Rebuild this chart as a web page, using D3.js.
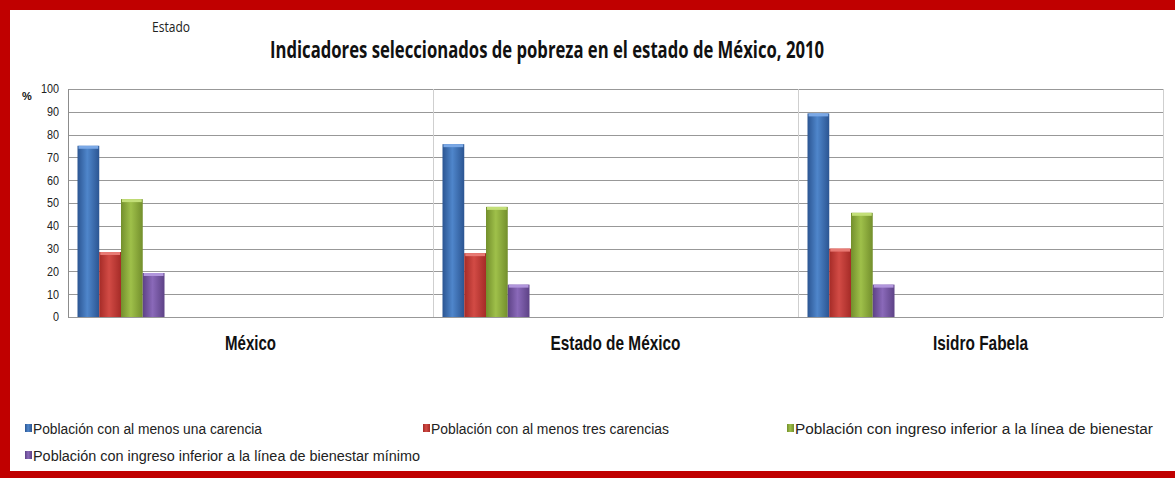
<!DOCTYPE html>
<html>
<head>
<meta charset="utf-8"/>
<script src="https://d3js.org/d3.v7.min.js"></script>
<style>
  body { margin: 0; background: #fff; }
  svg { display: block; }
  text { font-family: "Liberation Sans", Arial, sans-serif; fill: #111; }
  .grid line { stroke: #989898; stroke-width: 1; }
  .sep { stroke: #cfcfcf; stroke-width: 1; }
</style>
</head>
<body>
<div id="chart"></div>
<script>
// data
var categories = ["México", "Estado de México", "Isidro Fabela"];
var series = [
  "Población con al menos una carencia",
  "Población con al menos tres carencias",
  "Población con ingreso inferior a la línea de bienestar",
  "Población con ingreso inferior a la línea de bienestar mínimo"
];
var unaCarencia   = [75.1, 75.8, 89.3];
var tresCarencias = [28.5, 28.0, 30.0];
var ingresoBien   = [51.7, 48.3, 45.7];
var ingresoMin    = [19.3, 14.2, 14.2];
var yTicks = [0, 10, 20, 30, 40, 50, 60, 70, 80, 90, 100];

var values = [unaCarencia, tresCarencias, ingresoBien, ingresoMin];
// [edge, middle, top cap]
var colors = [
  ["#2b5592", "#4f86cb", "#7aa8e6"],
  ["#a52b27", "#d24b45", "#e87a74"],
  ["#738f2c", "#9fc04a", "#c3df78"],
  ["#5d4286", "#8a69b9", "#b196dc"]
];

var W = 1175, H = 478;
var m = {top: 89, right: 12, bottom: 161, left: 68}; // plot box 68..1163, 89..317

var svg = d3.select('#chart').append('svg')
  .attr('width', W).attr('height', H);

var defs = svg.append('defs');
colors.forEach(function(c, i) {
  var g = defs.append('linearGradient').attr('id', 'g' + i)
    .attr('x1', 0).attr('x2', 1).attr('y1', 0).attr('y2', 0);
  g.append('stop').attr('offset', '0%').attr('stop-color', c[0]);
  g.append('stop').attr('offset', '45%').attr('stop-color', c[1]);
  g.append('stop').attr('offset', '100%').attr('stop-color', c[0]);
});

// red frame
svg.append('rect').attr('x', 5).attr('y', 5).attr('width', W + 10).attr('height', H - 7)
  .style('fill', 'none').style('stroke', '#c00000').style('stroke-width', 10);

var x0 = d3.scaleBand().domain(categories).range([m.left, W - m.right]);
var x1 = d3.scaleBand().domain(d3.range(series.length)).range([0, 87]);
var barOffset = 9.5;
var y = d3.scaleLinear().domain([0, 100]).range([H - m.bottom, m.top]);

// gridlines
svg.append('g').attr('class', 'grid')
  .selectAll('line').data(yTicks).join('line')
  .attr('x1', m.left).attr('x2', W - m.right)
  .attr('y1', function(d) { return Math.round(y(d)) + 0.5; })
  .attr('y2', function(d) { return Math.round(y(d)) + 0.5; });

// category separators and right side of the plot
var seps = categories.slice(1).map(function(c) { return x0(c); }).concat([W - m.right]);
svg.append('g').selectAll('line').data(seps).join('line').attr('class', 'sep')
  .attr('x1', function(d) { return Math.round(d) + 0.5; })
  .attr('x2', function(d) { return Math.round(d) + 0.5; })
  .attr('y1', y(100)).attr('y2', y(0));

// y axis
var yAxis = svg.append('g').attr('transform', 'translate(' + m.left + ',0)')
  .call(d3.axisLeft(y).tickValues(yTicks).tickSize(0).tickPadding(10));
yAxis.select('.domain').attr('stroke', '#8c8c8c');
yAxis.selectAll('text').style('font-size', '12px').style('fill', '#222')
  .attr('transform', 'scale(0.9,1.08)')
  .attr('dy', '0.3em');

svg.append('text').attr('x', 22).attr('y', 100).text('%')
  .style('font-size', '11px').style('font-weight', 'bold');

// bars
var groups = svg.append('g').selectAll('g').data(categories).join('g')
  .attr('transform', function(c) { return 'translate(' + (x0(c) + barOffset) + ',0)'; });

groups.each(function(c, ci) {
  var g = d3.select(this);
  values.forEach(function(vals, si) {
    var v = vals[ci];
    g.append('rect')
      .attr('x', x1(si)).attr('width', x1.bandwidth())
      .attr('y', y(v)).attr('height', y(0) - y(v))
      .style('fill', 'url(#g' + si + ')');
    g.append('rect')
      .attr('x', x1(si) + 1).attr('width', x1.bandwidth() - 2)
      .attr('y', y(v)).attr('height', 3)
      .style('fill', colors[si][2]);
  });
});

// category labels
var catWidths = [51, 130, 95];
svg.append('g').selectAll('text').data(categories).join('text')
  .attr('x', function(c) { return x0(c) + x0.bandwidth() / 2; })
  .attr('y', 350)
  .attr('text-anchor', 'middle')
  .attr('textLength', function(c, i) { return catWidths[i]; })
  .attr('lengthAdjust', 'spacingAndGlyphs')
  .style('font-size', '21px').style('font-weight', 'bold')
  .text(function(c) { return c; });

// titles
svg.append('text').attr('x', 270).attr('y', 58)
  .attr('textLength', 554).attr('lengthAdjust', 'spacingAndGlyphs')
  .style('font-size', '23px').style('font-weight', 'bold')
  .style('font-family', '"Open Sans", "Liberation Sans", sans-serif')
  .text('Indicadores seleccionados de pobreza en el estado de México, 2010');

svg.append('text').attr('x', 152).attr('y', 32)
  .attr('textLength', 38).attr('lengthAdjust', 'spacingAndGlyphs')
  .style('font-size', '14px').style('fill', '#222')
  .style('font-family', '"Open Sans", "Liberation Sans", sans-serif')
  .text('Estado');

// legend
var legendPos = [[25, 428, 229], [423, 428, 238], [787, 428, 358], [25, 455, 387]];
var legend = svg.append('g').selectAll('g').data(series).join('g')
  .attr('transform', function(s, i) { return 'translate(' + legendPos[i][0] + ',' + legendPos[i][1] + ')'; });
legend.append('rect').attr('x', 0).attr('y', -4).attr('width', 7).attr('height', 8)
  .style('fill', function(s, i) { return 'url(#g' + i + ')'; });
legend.append('text').attr('x', 8).attr('y', 5.5)
  .attr('textLength', function(s, i) { return legendPos[i][2]; })
  .attr('lengthAdjust', 'spacingAndGlyphs')
  .style('font-size', '15.5px').style('fill', '#222')
  .text(function(s) { return s; });
</script>
</body>
</html>
